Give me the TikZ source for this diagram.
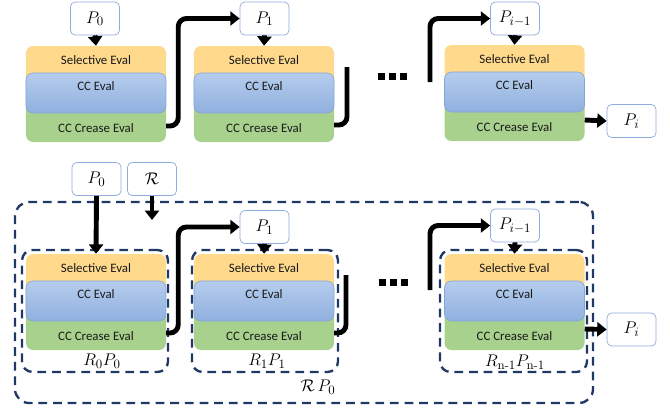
\documentclass[tikz,border=0pt]{standalone}
\usepackage[no-math]{fontspec}
\usepackage{amsmath}
\usetikzlibrary{arrows.meta}

\newfontfamily\calibri{Carlito}

\definecolor{selfill}{RGB}{255,217,140}
\definecolor{cctop}{RGB}{182,205,236}
\definecolor{ccbot}{RGB}{143,176,224}
\definecolor{ccline}{RGB}{130,165,215}
\definecolor{creasefill}{RGB}{169,209,142}
\definecolor{pline}{RGB}{143,170,220}
\definecolor{navy}{RGB}{31,56,100}

\tikzset{
  pbox/.style={draw=pline,fill=white,line width=0.6pt,rounded corners=4pt,
    minimum width=1.47cm,minimum height=0.99cm,inner sep=0pt,font=\fontsize{15}{17}\selectfont},
  layer/.style={rounded corners=6pt,minimum width=4.2cm,inner sep=0pt,
    font=\calibri\fontsize{11}{13}\selectfont,text=black!90},
  ylayer/.style={layer,fill=selfill,text height=0.54cm,text depth=0.72cm},
  blayer/.style={layer,top color=cctop,bottom color=ccbot,draw=ccline,line width=0.5pt,
    text height=0.51cm,text depth=0.69cm},
  glayer/.style={layer,fill=creasefill,text height=0.96cm,text depth=0.30cm},
  flow/.style={line width=4.2pt,rounded corners=7pt,
    arrows=-{Triangle[length=8pt,width=12pt]}},
  feed/.style={line width=4.2pt,rounded corners=7pt},
  group/.style={draw=navy,line width=2pt,dash pattern=on 7.5pt off 5pt,rounded corners=#1},
  group/.default=9pt,
  lab/.style={inner sep=0pt,font=\fontsize{15}{17}\selectfont},
}

% one evaluation stack: name, x centre, top y
\newcommand\evalstack[3]{%
  \node[ylayer] (#1y) at (#2,#3+21) {Selective Eval};
  \node[glayer] (#1g) at (#2,#3+75) {CC Crease Eval};
  \node[blayer] (#1b) at (#2,#3+47) {CC Eval};
}

\begin{document}
\begin{tikzpicture}[x=0.03cm,y=-0.03cm]
\useasboundingbox (0,0) rectangle (670,409);

% upper chain
\node[pbox] (p0t) at (95,18.5) {$P_0$};
\node[pbox] (p1t) at (264.5,18.5) {$P_1$};
\node[pbox] (p3t) at (515,18.5) {$P_{i-1}$};
\node[pbox] (pit) at (631.5,121) {$P_i$};
\evalstack{s1}{96}{46}
\evalstack{s2}{264}{46}
\evalstack{s3}{514.5}{45}
\coordinate (cut1) at (347,67);
\coordinate (gap1) at (430,82);
\foreach \i in {0,1,2}
  \fill (378+11*\i,73) rectangle ++(7,7);

\draw[flow] (p0t.south) -- (s1y.north);
\draw[flow] ([yshift=-0.15cm]s1g.east) -- ++(12,0) |- (p1t.west);
\draw[flow] (p1t.south) -- (s2y.north);
\draw[feed] ([yshift=-0.12cm]s2g.east) -| (cut1);
\draw[flow] (gap1) |- (p3t.west);
\draw[flow] (p3t.south) -- (s3y.north);
\draw[flow] (s3g.east) -- (pit.west);

% lower chain, grouped
\node[group=12pt,minimum width=17.34cm,minimum height=6.03cm] (all) at (304,302.5) {};
\node[group,minimum width=4.38cm,minimum height=3.66cm] (g1) at (95,311) {};
\node[group,minimum width=4.38cm,minimum height=3.66cm] (g2) at (265,311) {};
\node[group,minimum width=4.41cm,minimum height=3.66cm] (g3) at (513.5,311) {};
\node[lab] (l1) at (102,361) {$R_0P_0$};
\node[lab] (l2) at (267,361) {$R_1P_1$};
\node[lab] (l3) at (515,362) {$R_{\mathrm{n}\text{-}1}P_{\mathrm{n}\text{-}1}$};
\node[lab] (lall) at (318,387) {$\mathcal{R}\,P_0$};

\node[pbox] (pb0) at (96.5,179) {$P_0$};
\node[pbox] (rb) at (152,179) {$\mathcal{R}$};
\node[pbox] (pb1) at (264.5,227) {$P_1$};
\node[pbox] (pb3) at (515,225.5) {$P_{i-1}$};
\node[pbox] (pbi) at (631.5,329.5) {$P_i$};
\evalstack{b1}{96}{254}
\evalstack{b2}{264}{254}
\evalstack{b3}{514.5}{254}
\coordinate (rend) at (152,220);
\coordinate (cut2) at (346,275);
\coordinate (gap2) at (430,290);
\foreach \i in {0,1,2}
  \fill (379+11*\i,279) rectangle ++(7,7);

\draw[flow] (pb0.south) -- (b1y.north);
\draw[flow] (rb.south) -- (rend);
\draw[flow] ([yshift=-0.12cm]b1g.east) -- ++(12,0) |- (pb1.west);
\draw[flow] (pb1.south) -- (b2y.north);
\draw[feed] ([yshift=-0.12cm]b2g.east) -| (cut2);
\draw[flow] (gap2) |- (pb3.west);
\draw[flow] (pb3.south) -- (b3y.north);
\draw[flow] (b3g.east) -- (pbi.west);

\end{tikzpicture}
\end{document}
